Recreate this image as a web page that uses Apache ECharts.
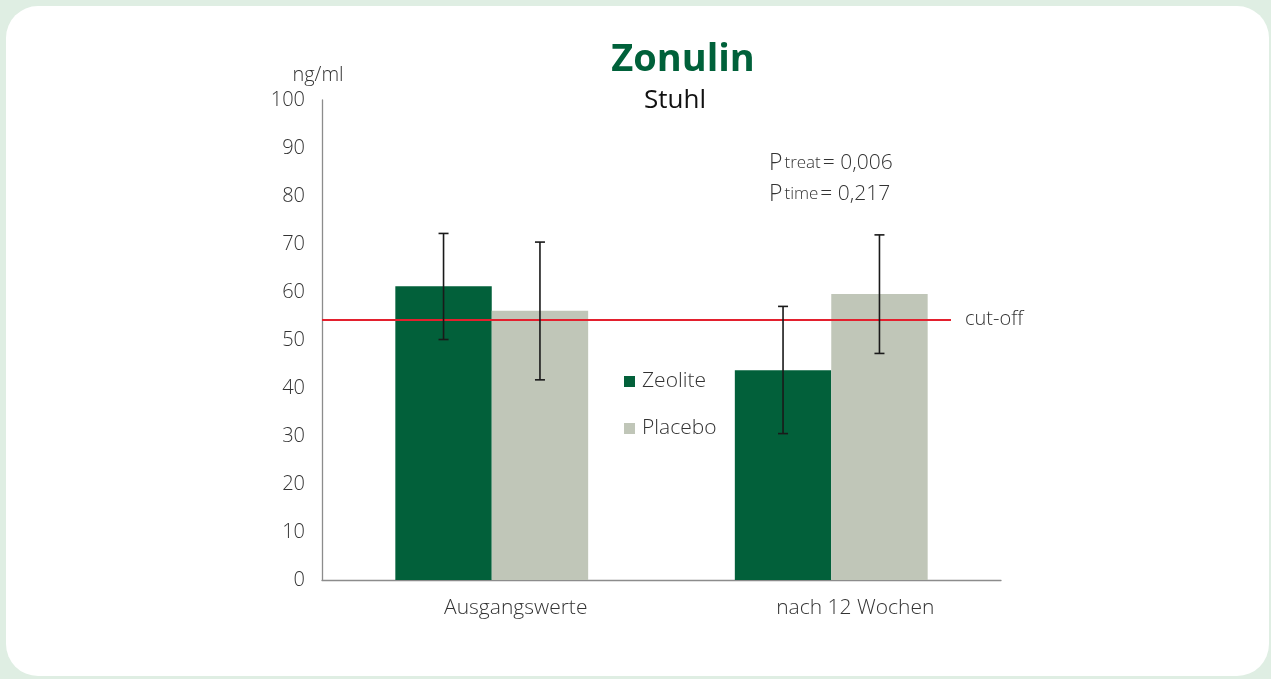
<!DOCTYPE html>
<html>
<head>
<meta charset="utf-8">
<script src="https://cdn.jsdelivr.net/npm/echarts@6/dist/echarts.min.js"></script>
<style>
html,body{margin:0;padding:0;width:1271px;height:679px;background:#dfeee3;overflow:hidden;}
#card{position:absolute;left:6px;top:6px;width:1263px;height:670px;background:#fff;border-radius:32px;}
#chart{position:absolute;left:0;top:0;width:1271px;height:679px;}
</style>
</head>
<body>
<div id="card"></div>
<div id="chart"></div>
<script>
const categories = ['Ausgangswerte', 'nach 12 Wochen'];
const zeolite = [61.2, 43.7];
const placebo = [56.1, 59.6];
const zeoliteErrLow = [50.1, 30.5];
const zeoliteErrHigh = [72.2, 57.0];
const placeboErrLow = [41.7, 47.2];
const placeboErrHigh = [70.4, 71.9];
const cutoff = 54.3;
const yTicks = [0, 10, 20, 30, 40, 50, 60, 70, 80, 90, 100];

const FONT = '"Open Sans", "Noto Sans", sans-serif';
const W = 300;
const TXT = '#333333';
const GREEN = '#02603a';
const GREY = '#c0c6b8';
const BAR_W = 0.284;

function errSeries(name, low, high, sign) {
  return {
    type: 'custom',
    name: name + '-err',
    z: 5,
    silent: true,
    data: categories.map((c, i) => [i, low[i], high[i]]),
    renderItem: function (params, api) {
      const band = api.size([1, 0])[0];
      const off = sign * band * BAR_W / 2;
      const lo = api.coord([api.value(0), api.value(1)]);
      const hi = api.coord([api.value(0), api.value(2)]);
      const x = lo[0] + off;
      const cap = 5;
      const st = { stroke: '#1a1a1a', lineWidth: 1.6 };
      return {
        type: 'group',
        children: [
          { type: 'line', shape: { x1: x, y1: lo[1], x2: x, y2: hi[1] }, style: st },
          { type: 'line', shape: { x1: x - cap, y1: lo[1], x2: x + cap, y2: lo[1] }, style: st },
          { type: 'line', shape: { x1: x - cap, y1: hi[1], x2: x + cap, y2: hi[1] }, style: st }
        ]
      };
    }
  };
}

function pRich() {
  return {
    p: { fontFamily: FONT, fontWeight: W, fontSize: 23, fill: TXT },
    s: { fontFamily: FONT, fontWeight: W, fontSize: 17, fill: TXT, padding: [0, 2, 0, 2] },
    v: { fontFamily: FONT, fontWeight: W, fontSize: 21, fill: TXT }
  };
}

const chart = echarts.init(document.getElementById('chart'));
chart.setOption({
  animation: false,
  backgroundColor: 'transparent',
  textStyle: { fontFamily: FONT },
  title: [
    { text: 'Zonulin', left: 678, top: 36, textAlign: 'center',
      textStyle: { fontFamily: FONT, fontWeight: 'bold', fontSize: 38, color: '#00613a' } },
    { text: 'Stuhl', left: 670, top: 83, textAlign: 'center',
      textStyle: { fontFamily: FONT, fontWeight: 'normal', fontSize: 26, color: '#111' } }
  ],
  legend: {
    orient: 'vertical',
    left: 619, top: 366,
    itemWidth: 11, itemHeight: 11, itemGap: 26,
    icon: 'rect',
    data: ['Zeolite', 'Placebo'],
    textStyle: { fontFamily: FONT, fontWeight: W, fontSize: 21, color: TXT, padding: [0, 0, 0, 2] }
  },
  grid: { left: 322, right: 270, top: 100, bottom: 99 },
  xAxis: {
    type: 'category',
    data: categories,
    axisLine: { lineStyle: { color: '#8c8c8c', width: 1.3 } },
    axisTick: { show: false },
    axisLabel: { fontFamily: FONT, fontWeight: W, fontSize: 21, color: TXT, margin: 18, padding: [0, 0, 0, 48] }
  },
  yAxis: {
    type: 'value',
    min: yTicks[0], max: yTicks[yTicks.length - 1], interval: 10,
    name: 'ng/ml',
    nameLocation: 'end',
    nameGap: 15,
    nameTextStyle: { fontFamily: FONT, fontWeight: W, fontSize: 20, color: TXT, align: 'center', padding: [0, 8, 0, 0] },
    axisLine: { show: true, lineStyle: { color: '#8c8c8c', width: 1.3 } },
    axisTick: { show: false },
    splitLine: { show: false },
    axisLabel: { fontFamily: FONT, fontWeight: W, fontSize: 20, color: TXT, margin: 17 }
  },
  series: [
    {
      name: 'Zeolite', type: 'bar', data: zeolite,
      barWidth: (BAR_W * 100) + '%', barGap: '0%',
      itemStyle: { color: GREEN },
      markLine: {
        silent: true, symbol: ['none', 'none'], z: 4,
        lineStyle: { color: '#e3202e', width: 1.8, type: 'solid' },
        label: { show: true, position: 'end', distance: 14, formatter: 'cut-off',
          fontFamily: FONT, fontWeight: W, fontSize: 20, color: TXT },
        data: [[{ x: 322, yAxis: cutoff }, { x: 951, yAxis: cutoff }]]
      }
    },
    {
      name: 'Placebo', type: 'bar', data: placebo,
      barWidth: (BAR_W * 100) + '%', barGap: '0%',
      itemStyle: { color: GREY }
    },
    errSeries('Zeolite', zeoliteErrLow, zeoliteErrHigh, -1),
    errSeries('Placebo', placeboErrLow, placeboErrHigh, 1)
  ],
  graphic: [
    { type: 'text', left: 769, top: 152,
      style: { text: '{p|P}{s|treat}{v|= 0,006}', rich: pRich() } },
    { type: 'text', left: 769, top: 183,
      style: { text: '{p|P}{s|time}{v|= 0,217}', rich: pRich() } }
  ]
});
</script>
</body>
</html>
